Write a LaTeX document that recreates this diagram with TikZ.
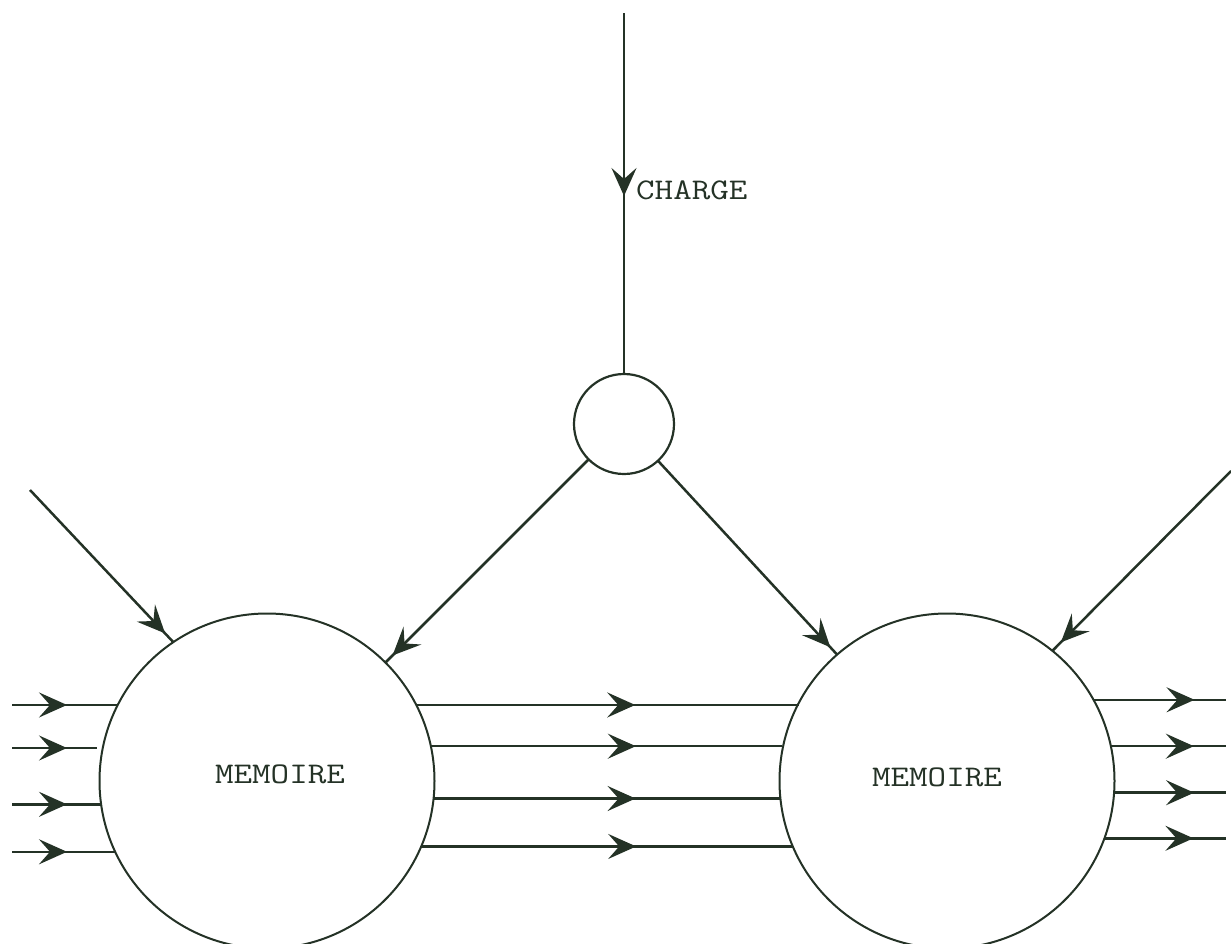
\documentclass[tikz,border=0pt]{standalone}
\usepackage{fontspec}
\newfontfamily\typew{Latin Modern Mono}[FakeStretch=1.2]
\usetikzlibrary{arrows.meta,decorations.markings}
\definecolor{ink}{RGB}{36,50,38}
\tikzset{
  ar/.tip={Stealth[length=28pt,width=25pt,inset=11pt]},
  wire/.style={draw=ink,line width=2.5pt},
  midarrow/.style={postaction={decorate,decoration={markings,mark=at position #1 with {\arrow[ink]{ar}}}}},
  bigcirc/.style={circle,draw=ink,line width=2pt,minimum size=335pt,inner sep=0pt,outer sep=0pt},
  smallcirc/.style={circle,draw=ink,line width=2.2pt,minimum size=100pt,inner sep=0pt,outer sep=0pt},
  lbl/.style={text=ink,font=\fontsize{30}{30}\selectfont\typew,inner sep=0pt}
}
\begin{document}
\begin{tikzpicture}[x=1pt,y=-1pt]
\useasboundingbox (0,0) rectangle (1231,943);
\node[bigcirc] (L) at (267,781) {};
\node[bigcirc] (R) at (947,781) {};
\node[smallcirc] (S) at (624,424) {};
\node[lbl] (m1) at (280,774) {MEMOIRE};
\node[lbl] (m2) at (937,777) {MEMOIRE};
% charge input
\coordinate (top) at (624,13);
\draw[wire,midarrow=183pt] (top) -- (S);
\node[lbl,anchor=west] (chg) at (636,190) {CHARGE};
% S to memories
\draw[wire,midarrow=-10pt] (S) -- (L.45.7);
\draw[wire,midarrow=-10pt] (S) -- (R.131.2);
% diagonal inputs
\coordinate (dl) at (30,490);
\coordinate (dr) at (1231,471);
\draw[wire,midarrow=-12pt] (dl) -- (L.124.3);
\draw[wire,midarrow=-12pt] (dr) -- (R.51.9);
% left inputs
\coordinate (i1) at (12,0 |- L.153.7);
\coordinate (i2) at (12,748);
\coordinate (i2e) at (97,748);
\coordinate (i3) at (12,0 |- L.188.6);
\coordinate (i4) at (12,0 |- L.205.5);
\draw[wire,midarrow=55pt] (i1) -- (L.153.7);
\draw[wire,midarrow=55pt] (i2) -- (i2e);
\draw[wire,midarrow=55pt] (i3) -- (L.188.6);
\draw[wire,midarrow=55pt] (i4) -- (L.205.5);
% middle lines
\coordinate (c1e) at (R.152.5 |- L.27.5);
\coordinate (c2e) at (782,0 |- L.12.1);
\coordinate (c3e) at (R.186.5 |- L.-6.5);
\coordinate (c4e) at (R.203.3 |- L.-23.3);
\draw[wire,midarrow=219pt] (L.27.5) -- (c1e);
\draw[wire,midarrow=205pt] (L.12.1) -- (c2e);
\draw[wire,midarrow=202pt] (L.-6.5) -- (c3e);
\draw[wire,midarrow=215pt] (L.-23.3) -- (c4e);
% right outputs
\coordinate (o1) at (1226,0 |- R.29.8);
\coordinate (o2) at (1226,0 |- R.12.1);
\coordinate (o3) at (1226,0 |- R.-4.8);
\coordinate (o4) at (1226,0 |- R.-20.3);
\draw[wire,midarrow=101pt] (R.29.8) -- (o1);
\draw[wire,midarrow=83pt] (R.12.1) -- (o2);
\draw[wire,midarrow=80pt] (R.-4.8) -- (o3);
\draw[wire,midarrow=89pt] (R.-20.3) -- (o4);
\end{tikzpicture}
\end{document}
